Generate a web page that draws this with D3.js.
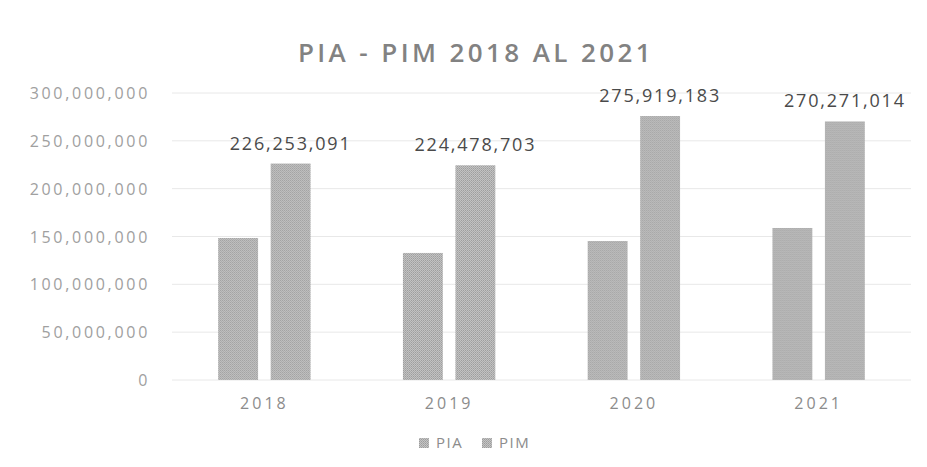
<!DOCTYPE html>
<html>
<head>
<meta charset="utf-8">
<script src="https://cdn.jsdelivr.net/npm/d3@7"></script>
<style>
  body { margin: 0; background: #fff; }
  text { font-family: "Open Sans", "Noto Sans", sans-serif; }
</style>
</head>
<body>
<div id="chart"></div>
<script>
// values
const years = ["2018", "2019", "2020", "2021"];
const seriesNames = ["PIA", "PIM"];
const pia = [148400000, 132800000, 145300000, 158900000];
const pim = [226253091, 224478703, 275919183, 270271014];
const yTicks = [0, 50000000, 100000000, 150000000, 200000000, 250000000, 300000000];

const width = 927, height = 467;
const margin = { top: 93, right: 16, bottom: 87, left: 172 };

const svg = d3.select("#chart").append("svg")
    .attr("width", width)
    .attr("height", height);

// halftone look of the scanned bars
const pat = svg.append("defs").append("pattern")
    .attr("id", "dots")
    .attr("width", 2)
    .attr("height", 2)
    .attr("patternUnits", "userSpaceOnUse");
pat.append("rect").attr("width", 2).attr("height", 2).style("fill", "#c4c4c4");
pat.append("rect").attr("width", 1).attr("height", 1).style("fill", "#9c9c9c");
pat.append("rect").attr("x", 1).attr("y", 1).attr("width", 1).attr("height", 1).style("fill", "#a8a8a8");

const rows = years.map((y, i) => ({ year: y, PIA: pia[i], PIM: pim[i] }));

const x0 = d3.scaleBand()
    .domain(years)
    .range([margin.left, width - margin.right])
    .paddingInner(0.5)
    .paddingOuter(0.25);

const x1 = d3.scaleBand()
    .domain(seriesNames)
    .range([0, x0.bandwidth()])
    .paddingInner(0.24);

const y = d3.scaleLinear()
    .domain([0, 300000000])
    .range([height - margin.bottom, margin.top]);

const fmt = d3.format(",");

// title
svg.append("text")
    .attr("x", 476)
    .attr("y", 62)
    .attr("text-anchor", "middle")
    .style("font-size", "26px")
    .style("font-weight", "600")
    .style("letter-spacing", "3.4px")
    .style("fill", "#828282")
    .text("PIA - PIM 2018 AL 2021");

// gridlines
svg.append("g")
    .selectAll("line")
    .data(yTicks)
    .enter()
    .append("line")
    .attr("x1", margin.left)
    .attr("x2", width - margin.right)
    .attr("y1", d => y(d))
    .attr("y2", d => y(d))
    .style("stroke", "#e8e8e8")
    .style("stroke-width", 1);

// y axis labels
const yAxis = d3.axisLeft(y).tickValues(yTicks).tickFormat(fmt).tickSize(0).tickPadding(22);
const gy = svg.append("g")
    .attr("transform", "translate(" + margin.left + ",0)")
    .call(yAxis);
gy.select(".domain").remove();
gy.selectAll("text")
    .style("font-size", "16px")
    .style("letter-spacing", "2.7px")
    .style("fill", "#a0a0a0")
    .attr("dy", "0.35em");

// x axis labels
const xAxis = d3.axisBottom(x0).tickSize(0).tickPadding(18);
const gx = svg.append("g")
    .attr("transform", "translate(0," + (height - margin.bottom) + ")")
    .call(xAxis);
gx.select(".domain").remove();
gx.selectAll("text")
    .style("font-size", "16px")
    .style("letter-spacing", "3px")
    .style("fill", "#8c8c8c");

// bars
const groups = svg.append("g")
    .selectAll("g")
    .data(rows)
    .enter()
    .append("g")
    .attr("transform", d => "translate(" + x0(d.year) + ",0)");

groups.selectAll("rect")
    .data(d => seriesNames.map(k => ({ key: k, value: d[k] })))
    .enter()
    .append("rect")
    .attr("x", d => x1(d.key))
    .attr("y", d => y(d.value))
    .attr("width", x1.bandwidth())
    .attr("height", d => y(0) - y(d.value))
    .style("fill", "url(#dots)");

// data labels on PIM only
groups.append("text")
    .attr("x", x1("PIM") + x1.bandwidth() / 2)
    .attr("y", d => y(d.PIM) - 14)
    .attr("text-anchor", "middle")
    .style("font-size", "18px")
    .style("letter-spacing", "1.8px")
    .style("fill", "#4a4a4a")
    .text(d => fmt(d.PIM));

// legend
const legend = svg.append("g")
    .attr("transform", "translate(419,443)");

const legendItems = legend.selectAll("g")
    .data(seriesNames)
    .enter()
    .append("g")
    .attr("transform", (d, i) => "translate(" + (i * 63) + ",0)");

legendItems.append("rect")
    .attr("x", 0)
    .attr("y", -5)
    .attr("width", 10)
    .attr("height", 10)
    .style("fill", "url(#dots)");

legendItems.append("text")
    .attr("x", 17)
    .attr("y", 0)
    .attr("dy", "0.35em")
    .style("font-size", "15px")
    .style("letter-spacing", "1.5px")
    .style("fill", "#8c8c8c")
    .text(d => d);
</script>
</body>
</html>
